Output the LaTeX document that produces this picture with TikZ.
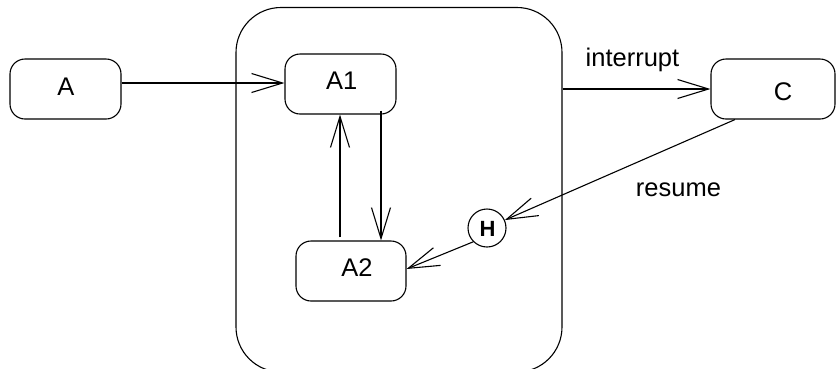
\documentclass[tikz,border=0pt]{standalone}
\usepackage{fontspec}
\setmainfont{Liberation Sans}
\usetikzlibrary{arrows.meta}
\begin{document}
\begin{tikzpicture}[x=1pt,y=-1pt,
  box/.style={draw,line width=1.1pt,rounded corners=15pt,inner sep=0pt,minimum height=60pt},
  lbl/.style={anchor=base,inner sep=0pt,font=\fontsize{25.5pt}{30pt}\selectfont},
  arr/.style={line width=1.9pt,-{Straight Barb[length=31pt,width=19pt,line width=1.1pt]}},
  thinarr/.style={line width=1.1pt,-{Straight Barb[length=31pt,width=19pt,line width=1.1pt]}}]
\useasboundingbox (0,0) rectangle (836,368);
\begin{scope}
\clip (0,0) rectangle (836,368);
\node[box, rounded corners=45pt, minimum width=326pt, minimum height=364.5pt] (S) at (399,189.75) {};
\node[box, minimum width=111pt] (A) at (65.5,89) {};
\node[box, minimum width=111pt] (A1) at (340.5,84) {};
\node[box, minimum width=110pt] (A2) at (351,271) {};
\node[box, minimum width=124pt] (C) at (773,89) {};
\node[draw, circle, line width=1.1pt, minimum size=38pt, inner sep=0pt] (H) at (487,228) {};
\node[anchor=base, inner sep=0pt, font=\fontsize{22pt}{26pt}\selectfont\bfseries] (tH) at (487.5,236) {H};

\node[lbl] (tA) at (66,95) {A};
\node[lbl] (tA1) at (341.7,89.3) {A1};
\node[lbl] (tA2) at (357,276) {A2};
\node[lbl] (tC) at (783,100) {C};
\node[lbl] (ti) at (632.5,66.7) {interrupt};
\node[lbl] (tr) at (678.5,196) {resume};

\draw[arr] ([yshift=6pt]A.east) -- ([yshift=6pt]A.east -| A1.west);
\draw[arr] ([xshift=40.5pt,yshift=4pt]A1.south) -- ([xshift=40.5pt]A1.south |- A2.north);
\draw[arr] ([xshift=-11pt,yshift=3pt]A2.north) -- ([xshift=-11pt]A2.north |- A1.south);
\draw[arr] (C.west -| S.east) -- (C.west);
\draw[thinarr] ([xshift=-38pt]C.south) -- (H.24);
\draw[thinarr] (H.225) -- ([yshift=2pt]A2.east);
\end{scope}
\end{tikzpicture}
\end{document}
